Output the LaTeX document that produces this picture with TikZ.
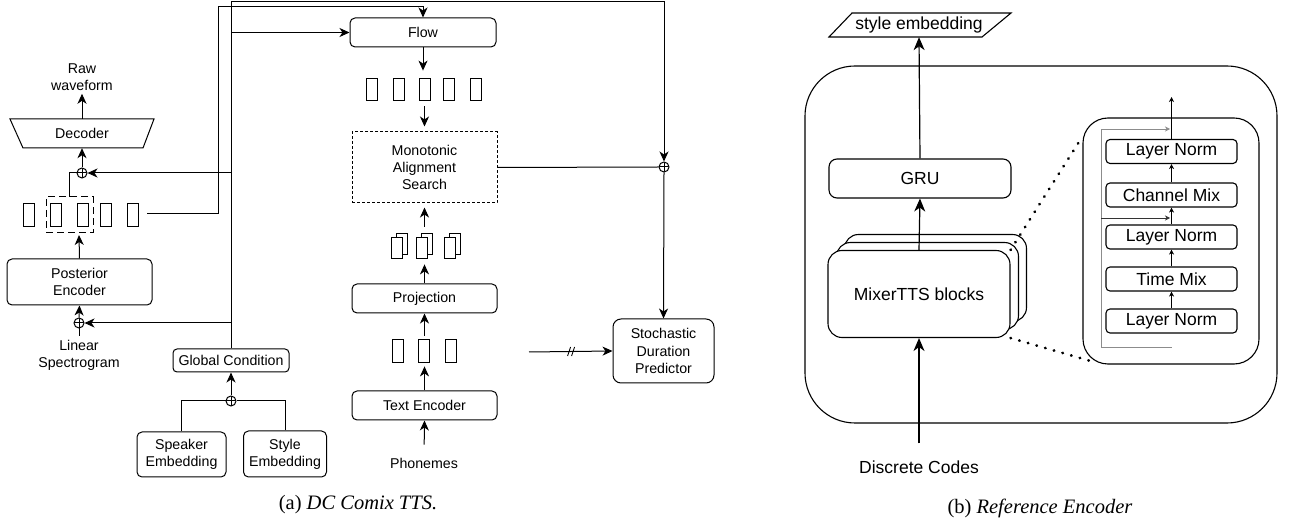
\documentclass[tikz,border=0pt]{standalone}
\usepackage{fontspec}
\setmainfont{Liberation Sans}
\newfontfamily\capserif{Liberation Serif}
\usetikzlibrary{arrows.meta,shapes.geometric}
\newcommand\lfnt{\fontsize{14.2}{17.2}\selectfont}
\newcommand\rfnt{\fontsize{17.5}{21}\selectfont}
\newcommand\cfnt{\capserif\fontsize{20.5}{24}\selectfont}
\begin{document}
\begin{tikzpicture}[x=1pt,y=-1pt,
  ln/.style={line width=1pt},
  arr/.style={ln,-{Stealth[length=10pt,width=9pt,inset=3pt]}},
  bigarr/.style={line width=1.2pt,-{Stealth[length=13pt,width=11pt,inset=4pt]}},
  smallarr/.style={line width=0.7pt,-{Stealth[length=5pt,width=5pt,inset=1.5pt]}},
  blk/.style={draw,ln,rounded corners=5pt,align=center,inner sep=0pt,font=\lfnt},
  lbl/.style={align=center,inner sep=0pt,font=\lfnt},
  vec/.style={draw,line width=0.8pt,minimum width=11pt,minimum height=23pt,inner sep=0pt,fill=white},
  opl/.style={circle,draw,ln,minimum size=10pt,inner sep=0pt,fill=white,
    path picture={\draw[ln] (path picture bounding box.north) -- (path picture bounding box.south)
                           (path picture bounding box.west) -- (path picture bounding box.east);}},
  rblk/.style={draw,line width=1.1pt,rounded corners=4pt,align=center,inner sep=0pt,font=\rfnt},
  stk/.style={draw,line width=1.1pt,rounded corners=14pt,fill=white,minimum width=182pt,minimum height=87pt,inner sep=0pt,font=\rfnt},
  res/.style={line width=0.8pt,draw=black!45},
  resb/.style={line width=0.8pt,draw=black!80},
  smalltip/.style={-{Stealth[length=5pt,width=5pt,inset=1.5pt]}},
  dots/.style={line width=2.8pt,line cap=round,dash pattern=on 0.4pt off 8.6pt}
]
\useasboundingbox (0,0) rectangle (1291,526);

% ---------------- (a) left part ----------------
\node[lbl] (raw) at (82,77) {Raw\\waveform};
\draw[ln] (10,119) -- (154,119) -- (143,148) -- (23,148) -- cycle;
\node[minimum width=130pt,minimum height=29pt,inner sep=0pt,font=\lfnt] (dec) at (82,133.5) {Decoder};
\node[opl] (o1) at (82,173) {};
\foreach \i/\x in {1/29,2/56,3/82.5,4/106,5/132.5}
  \node[vec] (za\i) at (\x,214.5) {};
\node[draw,ln,dash pattern=on 7pt off 4pt,minimum width=47pt,minimum height=36pt,inner sep=0pt] (sl) at (69.5,215) {};
\node[blk,minimum width=145pt,minimum height=46pt] (post) at (79.5,282) {Posterior\\Encoder};
\node[opl] (o2) at (79,323) {};
\node[lbl] (lin) at (79,355) {Linear\\Spectrogram};
\node[blk,rounded corners=4pt,minimum width=116pt,minimum height=23pt] (gc) at (231,360.5) {Global Condition};
\node[opl] (o3) at (231,401) {};
\node[blk,minimum width=89pt,minimum height=45pt] (spk) at (181.5,454.5) {Speaker\\Embedding};
\node[blk,minimum width=83pt,minimum height=46pt] (sty) at (285,454) {Style\\Embedding};

\node[blk,minimum width=146pt,minimum height=29pt] (flow) at (423,32.5) {Flow};
\foreach \i/\x in {1/371.5,2/398.5,3/425,4/449,5/476}
  \node[vec,minimum height=22pt] (zb\i) at (\x,89) {};
\node[draw,ln,dash pattern=on 3pt off 2pt,minimum width=145pt,minimum height=71pt,align=center,font=\lfnt,inner sep=0pt] (mas) at (424.5,167.5) {Monotonic\\Alignment\\Search};
\foreach \i/\x in {1/397,2/422,3/450}{
  \node[vec,minimum width=10.5pt,minimum height=21pt] (sb\i) at (\x+5,243.5) {};
  \node[vec,minimum width=10.5pt,minimum height=21pt] (sf\i) at (\x,247.5) {};
}
\node[blk,minimum width=145pt,minimum height=29pt] (proj) at (424.5,298.5) {Projection};
\foreach \i/\x in {1/397.5,2/424,3/450.5}
  \node[vec] (zc\i) at (\x,350.5) {};
\node[blk,minimum width=145pt,minimum height=29pt] (te) at (424.5,405.5) {Text Encoder};
\node[lbl] (ph) at (424,463) {Phonemes};
\node[blk,rounded corners=8pt,minimum width=101pt,minimum height=64pt] (sdp) at (663.5,351) {Stochastic\\Duration\\Predictor};
\node[opl] (o4) at (664,167) {};
\node[font=\cfnt,inner sep=0pt] (capa) at (358,505) {(a) \textit{DC Comix TTS.}};

% connectors (a)
\draw[arr,shorten >=3pt] (dec.north) -- (raw.south);
\draw[arr] (o1.north) -- (dec.south);
\coordinate (slt) at (69,197);
\draw[ln] (slt) |- (o1.west);
\coordinate (slb) at (79,235);
\draw[arr] (post.north) -- (slb);
\draw[arr] (o2.north) -- (post.south);
\draw[ln,shorten <=4pt] (lin.north) -- (o2.south);
\draw[arr] (o3.north) -- (gc.south);
\draw[ln] (spk.north) |- (o3.west);
\draw[ln] (sty.north) |- (o3.east);

\coordinate (t1) at (231,1.5);
\coordinate (t2) at (664,1.5);
\draw[ln] (gc.north) -- (t1) -- (t2);
\draw[arr] (t2) -- (o4.north);
\draw[arr] (o4.south) -- (sdp.north);
\draw[arr] (gc.north |- flow.west) -- (flow.west);
\draw[arr] (gc.north |- o1) -- (o1.east);
\draw[arr] (gc.north |- o2) -- (o2.east);

\coordinate (zr) at (147,213.5);
\coordinate (zt) at (218,7);
\draw[arr] (zr) -| (zt) -| (flow.north);

\draw[arr,shorten >=7pt] (flow.south) -- (flow.south |- zb3.north);
\draw[arr,shorten <=6pt,shorten >=5pt] (mas.north |- zb3.south) -- (mas.north);
\draw[ln] (mas.east) -- (o4.west);
\draw[arr,shorten <=6pt,shorten >=4pt] (mas.south |- sb2.north) -- (mas.south);
\draw[arr,shorten >=6pt] (proj.north) -- (proj.north |- sf2.south);
\draw[arr,shorten <=3pt] (proj.south |- zc2.north) -- (proj.south);
\draw[arr,shorten >=4pt] (te.north) -- (te.north |- zc2.south);
\draw[arr,shorten <=13pt] (ph.north) -- (te.south);

\coordinate (sin) at (529,352);
\draw[arr] (sin) -- (sdp.west);
\path (sin) -- (sdp.west) coordinate[pos=0.51] (brk);
\draw[line width=0.8pt] ([xshift=-4pt,yshift=-4.5pt]brk) -- ([xshift=-1pt,yshift=4.5pt]brk)
                        ([xshift=0pt,yshift=-4.5pt]brk) -- ([xshift=3pt,yshift=4.5pt]brk);

% ---------------- (b) right part ----------------
\node[draw,line width=1.1pt,rounded corners=50pt,minimum width=472pt,minimum height=357pt,inner sep=0pt] (outer) at (1041,244.5) {};
\draw[line width=1.1pt] (829,37) -- (852,13) -- (1011,13) -- (982,37) -- cycle;
\node[font=\rfnt,inner sep=0pt,minimum width=150pt,minimum height=24pt] (se) at (919,25) {style embedding};
\node[rblk,rounded corners=8pt,minimum width=182pt,minimum height=39pt] (gru) at (920,178.5) {GRU};
\node[stk] (mix3) at (935.5,278) {};
\node[stk] (mix2) at (927.5,286) {};
\node[stk] (mix) at (919,294) {MixerTTS blocks};
\node[font=\rfnt,inner sep=0pt] (dc) at (919,467) {Discrete Codes};
\draw[bigarr] (mix.north) -- (gru.south);
\draw[bigarr] (gru.north) -- (se.south);
\draw[bigarr,shorten <=17pt] (dc.north) -- (mix.south);

\node[draw,line width=1.1pt,rounded corners=25pt,minimum width=176pt,minimum height=246pt,inner sep=0pt] (inner) at (1171,241) {};
\node[rblk,minimum width=131pt,minimum height=24pt] (ln1) at (1171.5,151.5) {Layer Norm};
\node[rblk,minimum width=131pt,minimum height=24pt] (cm) at (1171.5,195) {Channel Mix};
\node[rblk,minimum width=131pt,minimum height=24pt] (ln2) at (1171.5,237) {Layer Norm};
\node[rblk,minimum width=131pt,minimum height=24pt] (tm) at (1171.5,279) {Time Mix};
\node[rblk,minimum width=131pt,minimum height=24pt] (ln3) at (1171.5,321) {Layer Norm};
\coordinate (outtop) at (1171.5,97);
\draw[smallarr] (ln3.north) -- (tm.south);
\draw[smallarr] (tm.north) -- (ln2.south);
\draw[smallarr] (ln2.north) -- (cm.south);
\draw[smallarr] (cm.north) -- (ln1.south);
\draw[smallarr] (ln1.north) -- (outtop);

\coordinate (rb) at (1171.5,347);
\coordinate (rbl) at (1101,347);
\coordinate (rtl) at (1101,129);
\coordinate (rt) at (1170,129);
\coordinate (rm) at (1170,218);
\draw[res,smalltip] (rb) -- (rbl) -- (rtl) -- (rt);
\draw[resb,smalltip] (rbl |- rm) -- (rm);

\draw[dots] (mix.north east) -- ([yshift=-19pt]inner.north west);
\draw[dots] (mix.south east) -- ([xshift=10pt,yshift=3pt]inner.south west);

\node[font=\cfnt,inner sep=0pt] (capb) at (1040,508) {(b) \textit{Reference Encoder}};
\end{tikzpicture}
\end{document}
